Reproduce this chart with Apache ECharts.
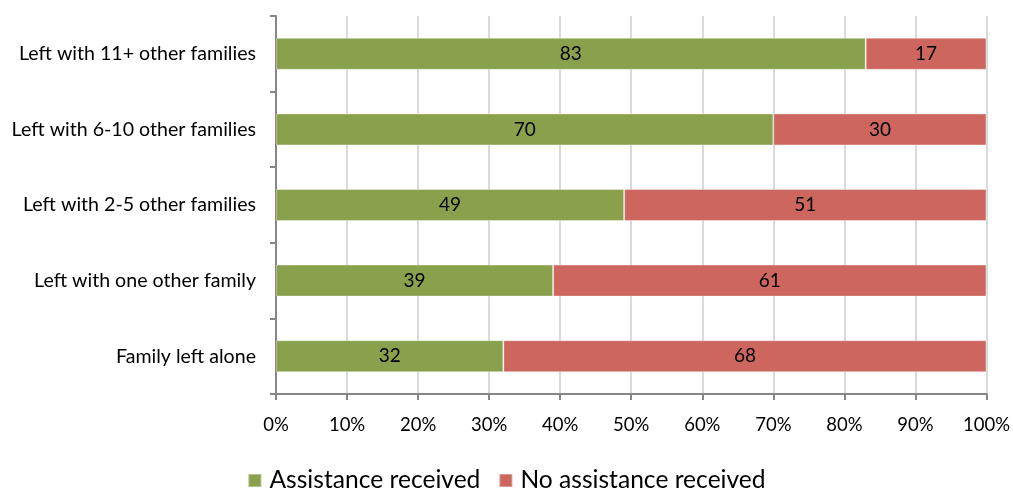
<!DOCTYPE html>
<html>
<head>
<meta charset="utf-8">
<script src="https://cdn.jsdelivr.net/npm/echarts@6/dist/echarts.min.js"></script>
<style>html,body{margin:0;padding:0;background:#fff}#chart{width:1013px;height:489px}</style>
</head>
<body>
<div id="chart"></div>
<script>
// Share of families receiving assistance, by how many other families they were left with
const categories = ['Family left alone', 'Left with one other family', 'Left with 2-5 other families', 'Left with 6-10 other families', 'Left with 11+ other families'];
const assistanceReceived = [32, 39, 49, 70, 83];
const noAssistanceReceived = [68, 61, 51, 30, 17];
const seriesNames = ['Assistance received', 'No assistance received'];

const font = 'Lato, "Open Sans", sans-serif';
const chart = echarts.init(document.getElementById('chart'));
chart.setOption({
  animation: false,
  grid: { left: 276, right: 21, top: 16, bottom: 95 },
  xAxis: {
    type: 'value', min: 0, max: 100, interval: 10,
    axisLine: { show: true, lineStyle: { color: '#868686', width: 2 } },
    axisTick: { show: true, length: 6, lineStyle: { color: '#868686', width: 2 } },
    splitLine: { show: true, lineStyle: { color: '#d9d9d9', width: 2 } },
    axisLabel: { formatter: '{value}%', color: '#000', fontFamily: font, fontSize: 18.5, margin: 22 }
  },
  yAxis: {
    type: 'category', data: categories,
    axisLine: { show: true, lineStyle: { color: '#868686', width: 2 } },
    axisTick: { show: true, length: 6, lineStyle: { color: '#868686', width: 2 } },
    axisLabel: { color: '#000', fontFamily: font, fontSize: 19.6, margin: 20 }
  },
  legend: {
    top: 463, left: 'center', itemWidth: 13, itemHeight: 13, itemGap: 18,
    icon: 'rect',
    textStyle: { color: '#000', fontFamily: font, fontSize: 24.6, padding: [0, 0, 0, 3] }
  },
  series: [
    { name: seriesNames[0], data: assistanceReceived, color: '#89A14D' },
    { name: seriesNames[1], data: noAssistanceReceived, color: '#CD665F' }
  ].map(s => Object.assign({
    type: 'bar', stack: 'total', barWidth: 32,
    itemStyle: { borderColor: 'rgba(255,255,255,0.35)', borderWidth: 1 },
    label: { show: true, position: 'inside', color: '#000', fontFamily: font, fontSize: 19 }
  }, s))
});
</script>
</body>
</html>
